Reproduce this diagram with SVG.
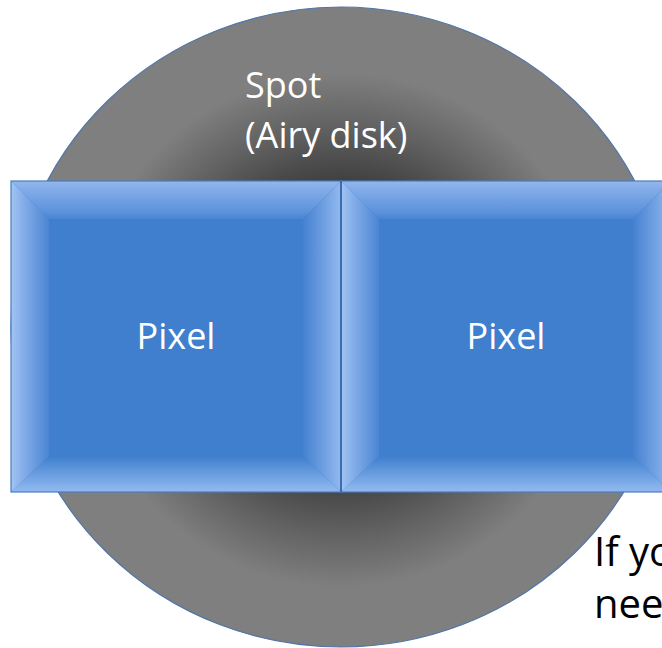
<svg xmlns="http://www.w3.org/2000/svg" width="662" height="648" viewBox="0 0 662 648">
  <style>
    .lbl { font-family: "Open Sans", "Liberation Sans", sans-serif; font-size: 36px; fill: #ffffff; }
    .note { font-family: "Open Sans", "Liberation Sans", sans-serif; font-size: 40px; fill: #000000; }
    .face { fill: #3f7fcd; }
    .edge { fill: none; stroke: #4a7cc0; stroke-width: 1.2; }
  </style>
  <defs>
    <radialGradient id="spotGrad" gradientUnits="userSpaceOnUse" cx="341" cy="330" r="330">
      <stop offset="0" stop-color="#1e1e1e"/>
      <stop offset="0.42" stop-color="#3a3a3a"/>
      <stop offset="0.62" stop-color="#626262"/>
      <stop offset="0.78" stop-color="#7f7f7f"/>
      <stop offset="1" stop-color="#7f7f7f"/>
    </radialGradient>
    <linearGradient id="bevTop" x1="0" y1="0" x2="0" y2="1">
      <stop offset="0" stop-color="#93b8ec"/>
      <stop offset="0.2" stop-color="#84ade8"/>
      <stop offset="0.8" stop-color="#5d93dc"/>
      <stop offset="1" stop-color="#4a84d2"/>
    </linearGradient>
    <linearGradient id="bevLeft" x1="0" y1="0" x2="1" y2="0">
      <stop offset="0" stop-color="#a3c4f4"/>
      <stop offset="0.3" stop-color="#86afe9"/>
      <stop offset="1" stop-color="#4b85d3"/>
    </linearGradient>
    <linearGradient id="bevRight" x1="1" y1="0" x2="0" y2="0">
      <stop offset="0" stop-color="#93b9ef"/>
      <stop offset="0.3" stop-color="#7ba8e6"/>
      <stop offset="1" stop-color="#4581d0"/>
    </linearGradient>
    <linearGradient id="bevBottom" x1="0" y1="1" x2="0" y2="0">
      <stop offset="0" stop-color="#93baf1"/>
      <stop offset="0.3" stop-color="#7aa9e7"/>
      <stop offset="1" stop-color="#3f7fcd"/>
    </linearGradient>
    <g id="bevelSquare">
      <rect class="face" x="0" y="0" width="330" height="311"/>
      <polygon fill="url(#bevTop)" points="0,0 330,0 292,38 38,38"/>
      <polygon fill="url(#bevBottom)" points="0,311 330,311 292,275 38,275"/>
      <polygon fill="url(#bevLeft)" points="0,0 38,38 38,275 0,311"/>
      <polygon fill="url(#bevRight)" points="330,0 292,38 292,275 330,311"/>
      <rect class="edge" x="0" y="0" width="330" height="311"/>
    </g>
  </defs>

  <g id="spot">
    <ellipse cx="341" cy="327" rx="330" ry="320" fill="url(#spotGrad)" stroke="#4f76a8" stroke-width="1.2"/>
    <text class="lbl" x="245" y="98">Spot</text>
    <text class="lbl" x="245" y="148">(Airy disk)</text>
  </g>

  <g id="pixel-left">
    <use href="#bevelSquare" x="11" y="181"/>
    <text class="lbl" x="176" y="349" text-anchor="middle">Pixel</text>
  </g>

  <g id="pixel-right">
    <use href="#bevelSquare" x="341" y="181"/>
    <text class="lbl" x="506" y="349" text-anchor="middle">Pixel</text>
  </g>

  <line x1="341" y1="181" x2="341" y2="492" stroke="#3b6cb0" stroke-width="2"/>

  <g id="note">
    <text class="note" x="594" y="566">If yo</text>
    <text class="note" x="594" y="618">nee</text>
  </g>
</svg>
